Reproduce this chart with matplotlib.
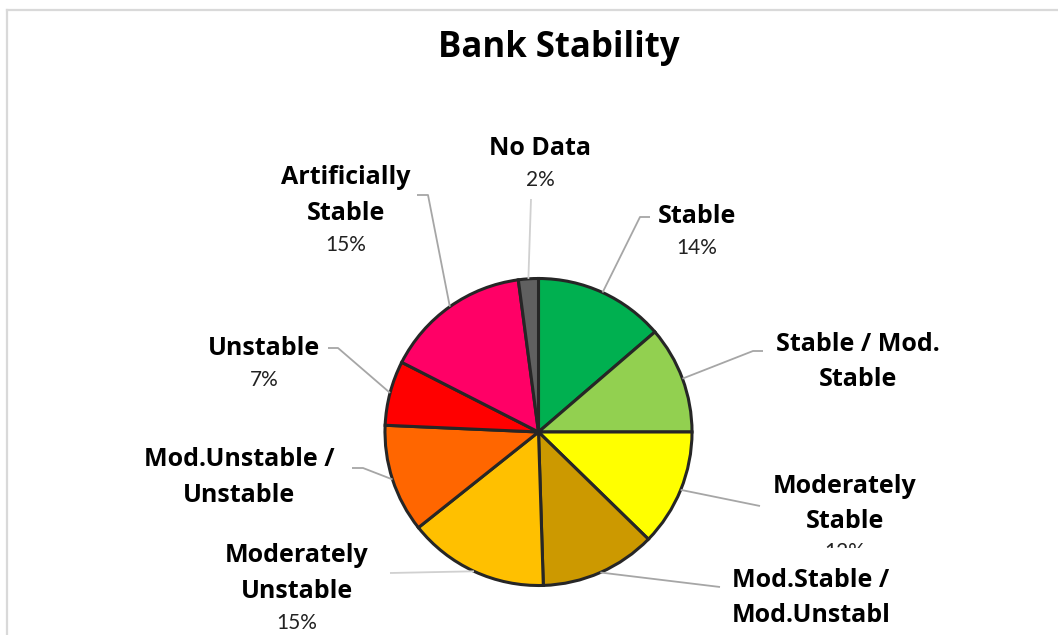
import numpy as np
import matplotlib.pyplot as plt
from matplotlib.patches import Rectangle

# Slice data, clockwise from 12 o'clock
categories = ["Stable", "Stable / Mod.\nStable", "Moderately\nStable",
              "Mod.Stable /\nMod.Unstabl", "Moderately\nUnstable",
              "Mod.Unstable /\nUnstable", "Unstable", "Artificially\nStable",
              "No Data"]
values = [13.7, 11.3, 12.3, 12.2, 14.8, 11.4, 6.8, 15.4, 2.1]
colors = ["#00B050", "#92D050", "#FFFF00", "#CC9900", "#FFC000",
          "#FF6600", "#FF0000", "#FF0066", "#606060"]
# which percentages are visible in the chart
show_pct = [True, False, True, False, True, False, True, True, True]

W, H = 1058, 635
BOLD_FONT = "Open Sans"
PCT_FONT = "Lato"

# label layout in pixels: x centre, baseline of first line, leader line points
label_x = [697, 858, 845, 811, 297, 239, 264, 346, 540]
label_y = [223, 351, 493, 587, 562, 466, 355, 184, 155]
leader_pts = [
    [(640, 217), (650, 217)],
    [(753, 351), (763, 351)],
    [(760, 506)],
    [(720, 587)],
    [(390, 573)],
    [(363, 468), (352, 468)],
    [(338, 348), (328, 348)],
    [(428, 195), (417, 195)],
    [(531, 199)],
]
line_step = 35.5


def Y(p):
    return H - p


fig = plt.figure(figsize=(W / 100, H / 100), dpi=100)
ax = fig.add_axes([0, 0, 1, 1])

cx, cy, r = 538.5, 432, 153.5
wedges, _ = ax.pie(values, colors=colors, startangle=90, counterclock=False,
                   center=(cx, Y(cy)), radius=r,
                   wedgeprops=dict(edgecolor="#262626", linewidth=2.2))
ax.set_xlim(0, W)
ax.set_ylim(0, H)
ax.set_aspect("auto")
ax.axis("off")

total = sum(values)
for i, w in enumerate(wedges):
    mid = np.deg2rad((w.theta1 + w.theta2) / 2)
    xs = [cx + r * np.cos(mid)] + [p[0] for p in leader_pts[i]]
    ys = [Y(cy) + r * np.sin(mid)] + [Y(p[1]) for p in leader_pts[i]]
    lc = "#D0D0D0" if i in (4, 8) else "#A6A6A6"
    ax.plot(xs, ys, color=lc, lw=1.3, zorder=1, solid_capstyle="butt")

    lines = categories[i].split("\n")
    for k, ln in enumerate(lines):
        ax.text(label_x[i], Y(label_y[i] + k * line_step), ln,
                ha="center", va="baseline", fontsize=18,
                fontweight="bold", family=BOLD_FONT, color="black", zorder=5)
    if show_pct[i]:
        pct = f"{round(100 * values[i] / total)}%"
        yb = label_y[i] + len(lines) * line_step - 4
        if i == 2:
            yb = 558
        ax.text(label_x[i], Y(yb), pct, ha="center", va="baseline",
                fontsize=15, family=PCT_FONT, color="#222222", zorder=3)

# the "Mod.Stable /" label box hides part of the 12% text
ax.add_patch(Rectangle((728, 0), 180, Y(548), facecolor="white",
                       edgecolor="none", zorder=4))

ax.text(559, Y(57), "Bank Stability", ha="center", va="baseline",
        fontsize=25, fontweight="bold", family=BOLD_FONT, color="black")

# chart frame (only top and left edges visible)
ax.plot([7, W], [Y(10), Y(10)], color="#D9D9D9", lw=1.6)
ax.plot([7, 7], [Y(10), 0], color="#D9D9D9", lw=1.6)

fig.savefig("out.png", dpi=100, facecolor="white")
